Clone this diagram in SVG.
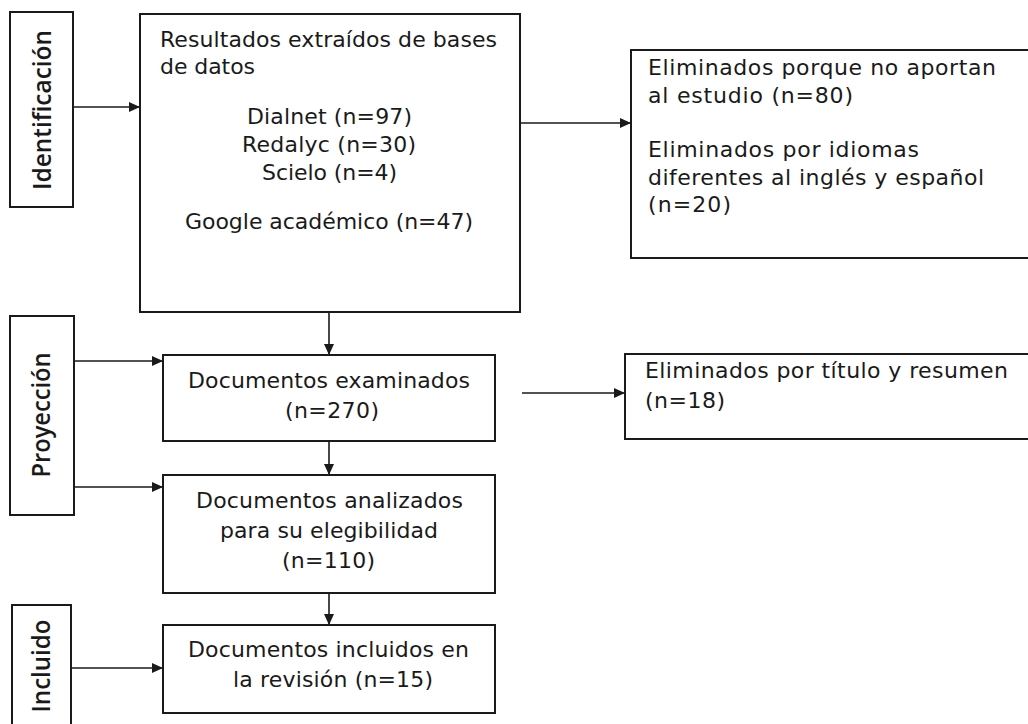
<svg xmlns="http://www.w3.org/2000/svg" width="1028" height="724" viewBox="0 0 1028 724">
<style>
.box{fill:#fff;stroke:#1a1a1a;stroke-width:2}
.t{font-family:"DejaVu Sans","Liberation Sans",sans-serif;font-size:22px;fill:#1a1a1a}
.c{text-anchor:middle}
.lab{font-family:"Open Sans","DejaVu Sans",sans-serif;font-weight:600;font-size:25px;fill:#1a1a1a;text-anchor:middle}
.con{stroke:#1a1a1a;stroke-width:1.6;fill:none;marker-end:url(#ah)}
</style>
<defs>
<marker id="ah" markerUnits="userSpaceOnUse" markerWidth="12" markerHeight="10" refX="11" refY="5" orient="auto">
<path d="M0,0 L11,5 L0,10 z" fill="#1a1a1a"/>
</marker>
</defs>
<rect width="1028" height="724" fill="#fff"/>
<g id="connectors">
<line class="con" x1="73" y1="107" x2="140" y2="107"/>
<line class="con" x1="520" y1="123" x2="631" y2="123"/>
<line class="con" x1="329" y1="312" x2="329" y2="355"/>
<line class="con" x1="74" y1="361" x2="163" y2="361"/>
<line class="con" x1="74" y1="487" x2="163" y2="487"/>
<line class="con" x1="522" y1="393" x2="625" y2="393"/>
<line class="con" x1="329" y1="441" x2="329" y2="475"/>
<line class="con" x1="329" y1="593" x2="329" y2="625"/>
<line class="con" x1="71" y1="668" x2="163" y2="668"/>
</g>
<g id="identificacion">
<rect class="box" x="10" y="12" width="63" height="195"/>
<text class="lab" transform="translate(51,110) rotate(-90)" textLength="160" lengthAdjust="spacingAndGlyphs">Identificación</text>
</g>
<g id="proyeccion">
<rect class="box" x="10" y="316" width="64" height="199"/>
<text class="lab" transform="translate(50,415) rotate(-90)" textLength="125" lengthAdjust="spacingAndGlyphs">Proyección</text>
</g>
<g id="incluido">
<rect class="box" x="12" y="605" width="59" height="130"/>
<text class="lab" transform="translate(50,666) rotate(-90)" textLength="93" lengthAdjust="spacingAndGlyphs">Incluido</text>
</g>
<g id="resultados">
<rect class="box" x="140" y="14" width="380" height="298"/>
<text class="t" x="160" y="47" textLength="337" lengthAdjust="spacing">Resultados extraídos de bases</text>
<text class="t" x="160" y="74" textLength="95" lengthAdjust="spacing">de datos</text>
<text class="t c" x="329.5" y="124" textLength="165" lengthAdjust="spacing">Dialnet (n=97)</text>
<text class="t c" x="329" y="152" textLength="174" lengthAdjust="spacing">Redalyc (n=30)</text>
<text class="t c" x="329.5" y="180" textLength="135" lengthAdjust="spacing">Scielo (n=4)</text>
<text class="t c" x="329" y="229" textLength="288" lengthAdjust="spacing">Google académico (n=47)</text>
</g>
<g id="eliminados1">
<rect class="box" x="631" y="50" width="410" height="208"/>
<text class="t" x="648" y="75" textLength="348" lengthAdjust="spacing">Eliminados porque no aportan</text>
<text class="t" x="648" y="103" textLength="205" lengthAdjust="spacing">al estudio (n=80)</text>
<text class="t" x="648" y="157" textLength="271" lengthAdjust="spacing">Eliminados por idiomas</text>
<text class="t" x="648" y="185" textLength="336" lengthAdjust="spacing">diferentes al inglés y español</text>
<text class="t" x="648" y="212" textLength="83" lengthAdjust="spacing">(n=20)</text>
</g>
<g id="examinados">
<rect class="box" x="163" y="355" width="332" height="86"/>
<text class="t c" x="329" y="388" textLength="282" lengthAdjust="spacing">Documentos examinados</text>
<text class="t c" x="332" y="418" textLength="94" lengthAdjust="spacing">(n=270)</text>
</g>
<g id="eliminados2">
<rect class="box" x="625" y="354" width="416" height="85"/>
<text class="t" x="645" y="378" textLength="363" lengthAdjust="spacing">Eliminados por título y resumen</text>
<text class="t" x="645" y="408" textLength="80" lengthAdjust="spacing">(n=18)</text>
</g>
<g id="analizados">
<rect class="box" x="163" y="475" width="332" height="118"/>
<text class="t c" x="329.5" y="508" textLength="267" lengthAdjust="spacing">Documentos analizados</text>
<text class="t c" x="329" y="538" textLength="218" lengthAdjust="spacing">para su elegibilidad</text>
<text class="t c" x="328.5" y="568" textLength="93" lengthAdjust="spacing">(n=110)</text>
</g>
<g id="incluidos">
<rect class="box" x="163" y="625" width="332" height="88"/>
<text class="t c" x="328.5" y="657" textLength="281" lengthAdjust="spacing">Documentos incluidos en</text>
<text class="t c" x="333" y="687" textLength="200" lengthAdjust="spacing">la revisión (n=15)</text>
</g>
</svg>
